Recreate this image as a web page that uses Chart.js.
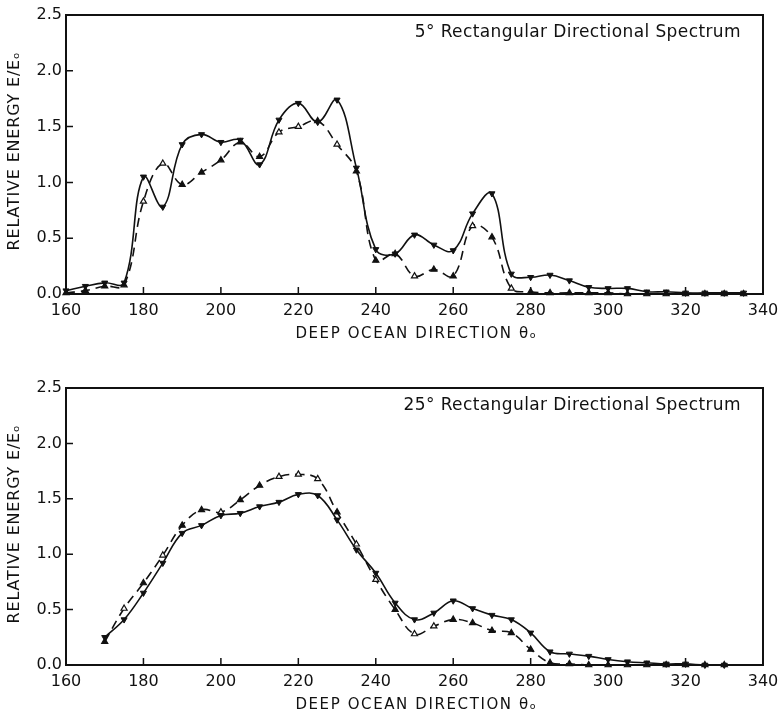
<!DOCTYPE html>
<html>
<head>
<meta charset="UTF-8">
<title>Relative energy vs deep ocean direction</title>
<script src="https://cdn.jsdelivr.net/npm/chart.js"></script>
<style>
  body { margin: 0; background: #fff; }
  .wrap { position: relative; width: 780px; height: 719px; }
  #c1 { position: absolute; left: 0; top: 0; }
  #c2 { position: absolute; left: 0; top: 345px; }
</style>
</head>
<body>
<div class="wrap">
  <canvas id="c1" width="780" height="345"></canvas>
  <canvas id="c2" width="780" height="374"></canvas>
</div>
<script>
// ---- data ----
const xTicks = [160, 180, 200, 220, 240, 260, 280, 300, 320, 340];
const yTicks = [0.0, 0.5, 1.0, 1.5, 2.0, 2.5];

// top panel: 5 deg rectangular spectrum
const anglesTop = [160, 165, 170, 175, 180, 185, 190, 195, 200, 205, 210, 215, 220, 225, 230, 235, 240, 245,
                   250, 255, 260, 265, 270, 275, 280, 285, 290, 295, 300, 305, 310, 315, 320, 325, 330, 335];
const solidTop = [0.03, 0.07, 0.10, 0.10, 1.05, 0.78, 1.34, 1.43, 1.36, 1.38, 1.16, 1.56, 1.71, 1.54, 1.74, 1.13, 0.40, 0.36,
                  0.53, 0.44, 0.39, 0.72, 0.90, 0.18, 0.15, 0.17, 0.12, 0.06, 0.05, 0.05, 0.02, 0.02, 0.01, 0.01, 0.01, 0.01];
const dashTop  = [0.01, 0.03, 0.07, 0.08, 0.83, 1.17, 0.98, 1.09, 1.20, 1.36, 1.23, 1.45, 1.50, 1.55, 1.34, 1.10, 0.30, 0.36,
                  0.16, 0.22, 0.16, 0.61, 0.51, 0.05, 0.02, 0.01, 0.01, 0.01, 0.01, 0.00, 0.00, 0.00, 0.00, 0.00, 0.00, 0.00];
const openTop  = [180, 185, 215, 220, 230, 250, 265, 275];

// bottom panel: 25 deg rectangular spectrum
const anglesBot = [170, 175, 180, 185, 190, 195, 200, 205, 210, 215, 220, 225, 230, 235, 240, 245, 250,
                   255, 260, 265, 270, 275, 280, 285, 290, 295, 300, 305, 310, 315, 320, 325, 330];
const solidBot = [0.25, 0.41, 0.65, 0.92, 1.19, 1.26, 1.35, 1.37, 1.43, 1.47, 1.54, 1.53, 1.31, 1.04, 0.83, 0.56, 0.41,
                  0.47, 0.58, 0.51, 0.45, 0.41, 0.29, 0.12, 0.10, 0.08, 0.05, 0.03, 0.02, 0.01, 0.01, 0.00, 0.00];
const dashBot  = [0.21, 0.51, 0.74, 0.99, 1.26, 1.40, 1.38, 1.49, 1.62, 1.70, 1.72, 1.68, 1.38, 1.09, 0.77, 0.50, 0.28,
                  0.35, 0.41, 0.38, 0.31, 0.29, 0.14, 0.02, 0.01, 0.00, 0.00, 0.00, 0.00, 0.00, 0.00, 0.00, 0.00];
const openBot  = [175, 185, 200, 215, 220, 225, 235, 240, 250, 255];

const xTitle = 'DEEP OCEAN DIRECTION \u03b8\u2092';
const yTitle = 'RELATIVE ENERGY E/E\u2092';

const FONT = 'DejaVu Sans';
const INK = '#111';

// frame, inward tick marks, axis titles and the in-plot caption
const framePlugin = {
  id: 'frame',
  afterDatasetsDraw(chart, args, opts) {
    const { ctx, chartArea: a, scales } = chart;
    ctx.save();
    ctx.strokeStyle = INK;
    ctx.lineWidth = 2;
    ctx.strokeRect(a.left, a.top, a.right - a.left, a.bottom - a.top);
    ctx.lineWidth = 1.5;
    ctx.beginPath();
    scales.x.ticks.forEach(t => {
      const px = scales.x.getPixelForValue(t.value);
      ctx.moveTo(px, a.bottom); ctx.lineTo(px, a.bottom - 7);
    });
    scales.y.ticks.forEach(t => {
      const py = scales.y.getPixelForValue(t.value);
      ctx.moveTo(a.left, py); ctx.lineTo(a.left + 7, py);
    });
    ctx.stroke();

    ctx.fillStyle = INK;
    ctx.textBaseline = 'middle';

    // caption, top right inside the box
    ctx.font = '17px "' + FONT + '"';
    ctx.letterSpacing = '0.4px';
    ctx.textAlign = 'right';
    ctx.fillText(opts.text, a.right - 22, a.top + 18);

    // x title
    ctx.font = '15px "' + FONT + '"';
    ctx.letterSpacing = '1.6px';
    ctx.textAlign = 'center';
    ctx.fillText(xTitle, (a.left + a.right) / 2 + 2, a.bottom + 40);

    // y title, rotated
    ctx.font = '16px "' + FONT + '"';
    ctx.letterSpacing = '0.8px';
    ctx.translate(15, a.top + 136);
    ctx.rotate(-Math.PI / 2);
    ctx.fillText(yTitle, 0, 0);
    ctx.restore();
  }
};

function pts(xs, ys) { return xs.map((x, i) => ({ x: x, y: ys[i] })); }

function makeChart(id, angles, solid, dash, open, caption, padTop, xHeight) {
  return new Chart(document.getElementById(id), {
    type: 'line',
    data: {
      datasets: [{
        label: 'solid',
        data: pts(angles, solid),
        borderColor: INK,
        borderWidth: 1.6,
        tension: 0.4,
        pointStyle: 'triangle',
        rotation: 180,
        pointRadius: 3.5,
        pointBackgroundColor: INK,
        pointBorderColor: INK,
        pointBorderWidth: 1,
        clip: false
      }, {
        label: 'dashed',
        data: pts(angles, dash),
        borderColor: INK,
        borderWidth: 1.6,
        borderDash: [9, 6],
        tension: 0.4,
        pointStyle: 'triangle',
        pointRadius: 3.5,
        pointBackgroundColor: c => (c.raw && open.includes(c.raw.x)) ? '#fff' : INK,
        pointBorderColor: INK,
        pointBorderWidth: 1.2,
        clip: false
      }]
    },
    options: {
      responsive: false,
      animation: false,
      layout: { padding: { top: padTop, right: 17, left: 0, bottom: 0 } },
      plugins: { legend: { display: false }, tooltip: { enabled: false }, frame: { text: caption } },
      scales: {
        x: {
          type: 'linear', min: 160, max: 340,
          afterBuildTicks: s => { s.ticks = xTicks.map(v => ({ value: v })); },
          afterFit: s => { s.height = xHeight; s.paddingLeft = 0; s.paddingRight = 0; },
          grid: { display: false, drawTicks: false },
          border: { display: true, color: INK, width: 2 },
          ticks: { color: INK, padding: 7, maxRotation: 0, font: { family: FONT, size: 16 } }
        },
        y: {
          min: 0, max: 2.5,
          afterBuildTicks: s => { s.ticks = yTicks.map(v => ({ value: v })); },
          afterFit: s => { s.width = 66; },
          grid: { display: false, drawTicks: false },
          border: { display: true, color: INK, width: 2 },
          ticks: { color: INK, padding: 4, callback: v => v.toFixed(1), font: { family: FONT, size: 16 } }
        }
      }
    },
    plugins: [framePlugin]
  });
}

makeChart('c1', anglesTop, solidTop, dashTop, openTop, '5\u00b0 Rectangular Directional Spectrum', 15, 51);
makeChart('c2', anglesBot, solidBot, dashBot, openBot, '25\u00b0 Rectangular Directional Spectrum', 43, 54);
</script>
</body>
</html>
